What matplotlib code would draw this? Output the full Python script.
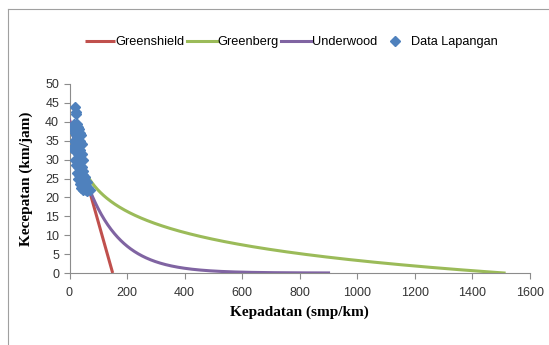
import numpy as np
import matplotlib
matplotlib.use("Agg")
import matplotlib.pyplot as plt
from matplotlib.lines import Line2D

# ---- data ----
vf = 40.5
kj_greenshield = 150
vm_greenberg = 8.06
kj_greenberg = 1510
km_underwood = 115

k_greenshield = [0, 150]
k_greenberg_start, k_greenberg_end = 68, 1510
k_underwood_end = 900

data_k = [18, 21, 23, 15, 20, 25, 28, 32, 36, 12, 18, 24, 30, 35, 40, 14, 22,
          27, 33, 38, 42, 10, 16, 26, 31, 37, 44, 20, 28, 34, 40, 46, 24, 30,
          36, 42, 48, 26, 33, 40, 47, 54, 30, 38, 45, 52, 60, 35, 44, 50, 58,
          65, 40, 48, 56, 62, 70]
data_v = [44, 42.7, 42, 39.5, 39, 39.5, 38.5, 38, 37, 38, 37, 36.5, 36, 35,
          36.5, 35, 34.5, 34, 33.5, 32.5, 34, 33, 32.5, 32, 31.5, 31, 31.5, 30,
          29.5, 29, 29.5, 30, 28.5, 28, 27.5, 28, 27, 26.5, 26, 26.5, 26, 25.5,
          25, 24.5, 24, 24.5, 24, 23.5, 23, 23.5, 23, 22.5, 22.5, 22, 22, 21.8,
          22]

x_ticks = [0, 200, 400, 600, 800, 1000, 1200, 1400, 1600]
y_ticks = [0, 5, 10, 15, 20, 25, 30, 35, 40, 45, 50]

c_red = "#C0504D"
c_green = "#9BBB59"
c_purple = "#8064A2"
c_blue = "#4F81BD"

fig = plt.figure(figsize=(5.49, 3.45), dpi=100)
W, H = 549, 345
ax = fig.add_axes([69.5 / W, 1 - 273 / H, (530 - 69.5) / W, (273 - 84) / H])

kg = np.array(k_greenshield, dtype=float)
ax.plot(kg, vf * (1 - kg / kj_greenshield), color=c_red, lw=2.2,
        label="Greenshield", solid_capstyle="butt", zorder=2)
kb = np.linspace(k_greenberg_start, k_greenberg_end, 400)
ax.plot(kb, vm_greenberg * np.log(kj_greenberg / kb), color=c_green, lw=2.2,
        label="Greenberg", zorder=2)
ku = np.linspace(0, k_underwood_end, 400)
ax.plot(ku, vf * np.exp(-ku / km_underwood), color=c_purple, lw=2.2,
        label="Underwood", zorder=3)
ax.plot(data_k, data_v, linestyle="none", marker="D", markersize=5.2,
        color=c_blue, label="Data Lapangan", zorder=4)

ax.set_xlim(0, 1600)
ax.set_ylim(0, 50)
ax.set_xticks(x_ticks)
ax.set_yticks(y_ticks)
for s in ["top", "right"]:
    ax.spines[s].set_visible(False)
for s in ["left", "bottom"]:
    ax.spines[s].set_color("#8C8C8C")
    ax.spines[s].set_linewidth(0.8)
ax.tick_params(axis="both", colors="#8C8C8C", length=4, width=0.8,
               labelcolor="#333333", labelsize=9, labelfontfamily="Liberation Sans")
ax.tick_params(axis="x", pad=6)

ax.set_xlabel("Kepadatan (smp/km)", family="Liberation Serif", weight="bold",
              fontsize=11, labelpad=5)
ax.set_ylabel("Kecepatan (km/jam)", family="Liberation Serif", weight="bold",
              fontsize=11, labelpad=9)

leg = fig.legend(loc="center", bbox_to_anchor=(291 / W, 1 - 42 / H), ncol=4,
                 frameon=False, prop={"family": "Liberation Sans", "size": 9.2},
                 handlelength=2.35, handletextpad=0.05, columnspacing=0.2,
                 borderpad=0.2)

# outer frame (top and left edges visible)
fig.add_artist(Line2D([8 / W, 1], [1 - 9 / H, 1 - 9 / H], color="#A0A0A0", lw=0.8,
                      transform=fig.transFigure))
fig.add_artist(Line2D([8 / W, 8 / W], [0, 1 - 9 / H], color="#A0A0A0", lw=0.8,
                      transform=fig.transFigure))

fig.savefig("out.png", dpi=100)
